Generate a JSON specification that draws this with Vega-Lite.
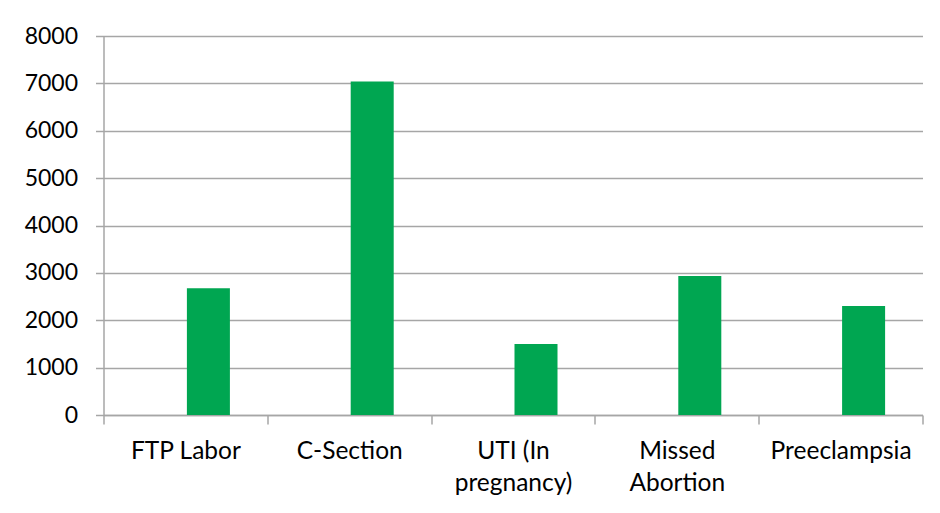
{
  "$schema": "https://vega.github.io/schema/vega-lite/v6.json",
  "autosize": {"type": "none"},
  "padding": {"left": 103.5, "top": 36, "right": 17, "bottom": 98},
  "width": 819,
  "height": 379,
  "background": "white",
  "data": {
    "values": [
      {"category": "FTP Labor", "series": "Series 2", "value": 2675},
      {"category": "C-Section", "series": "Series 2", "value": 7040},
      {"category": "UTI (In pregnancy)", "series": "Series 2", "value": 1500},
      {"category": "Missed Abortion", "series": "Series 2", "value": 2935},
      {"category": "Preeclampsia", "series": "Series 2", "value": 2300}
    ]
  },
  "mark": {"type": "bar", "color": "#00A651"},
  "encoding": {
    "x": {
      "field": "category",
      "type": "nominal",
      "sort": null,
      "scale": {"paddingInner": 0, "paddingOuter": 0},
      "axis": {
        "title": null,
        "labelAngle": 0,
        "tickBand": "extent",
        "domainColor": "#a6a6a6",
        "domainWidth": 1.5,
        "tickColor": "#a6a6a6",
        "tickWidth": 1.5,
        "tickSize": 9,
        "labelFont": "Lato",
        "labelFontSize": 24.5,
        "labelColor": "#000000",
        "labelPadding": 15,
        "labelLineHeight": 32,
        "labelLimit": 300,
        "labelExpr": "datum.value == 'UTI (In pregnancy)' ? ['UTI (In', 'pregnancy)'] : datum.value == 'Missed Abortion' ? ['Missed', 'Abortion'] : datum.value"
      }
    },
    "xOffset": {
      "field": "series",
      "type": "nominal",
      "scale": {"domain": ["Series 1", "Series 2"], "paddingInner": 0.065, "paddingOuter": 0.813}
    },
    "y": {
      "field": "value",
      "type": "quantitative",
      "scale": {"domain": [0, 8000], "nice": false},
      "axis": {
        "title": null,
        "values": [0, 1000, 2000, 3000, 4000, 5000, 6000, 7000, 8000],
        "format": "d",
        "grid": true,
        "gridColor": "#a6a6a6",
        "gridWidth": 1.5,
        "domainColor": "#a6a6a6",
        "domainWidth": 1.5,
        "tickColor": "#a6a6a6",
        "tickWidth": 1.5,
        "tickSize": 8,
        "labelFont": "Lato",
        "labelFontSize": 23,
        "labelColor": "#000000",
        "labelPadding": 18
      }
    }
  },
  "config": {
    "view": {"stroke": null},
    "axis": {"labelFontWeight": "normal"}
  }
}
